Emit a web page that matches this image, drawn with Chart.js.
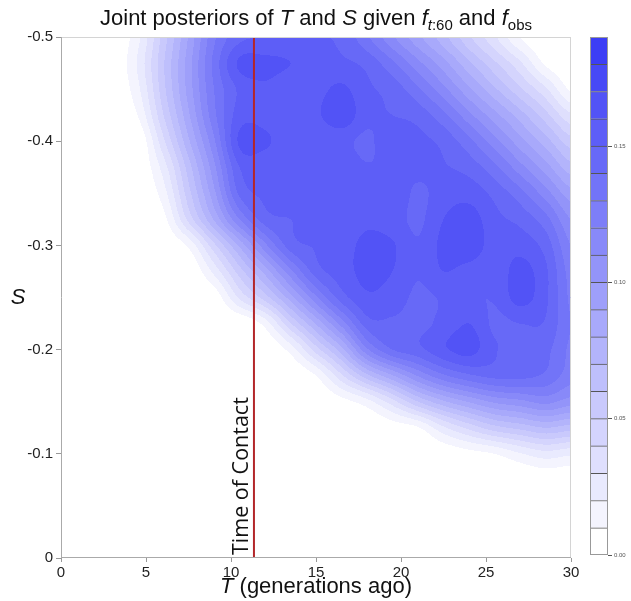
<!DOCTYPE html>
<html>
<head>
<meta charset="utf-8">
<script src="https://cdn.jsdelivr.net/npm/chart.js@4.4.1/dist/chart.umd.min.js"></script>
<style>
  html, body { margin: 0; padding: 0; background: #fff; }
  #wrap { position: relative; width: 631px; height: 601px; }
  #main { position: absolute; left: 0; top: 0; }
  #bar { position: absolute; left: 570px; top: 0; }
</style>
</head>
<body>
<div id="wrap">
  <canvas id="main" width="631" height="601"></canvas>
  <canvas id="bar" width="61" height="601"></canvas>
</div>
<script>
// grid of the density estimate (T along columns, S along rows)
const T_GRID = [0, 1.5, 3, 4.5, 6, 7.5, 9, 10.5, 12, 13.5, 15, 16.5, 18, 19.5, 21, 22.5, 24, 25.5, 27, 28.5, 30];
const S_GRID = [-0.5, -0.475, -0.45, -0.425, -0.4, -0.375, -0.35, -0.325, -0.3, -0.275, -0.25,
                -0.225, -0.2, -0.175, -0.15, -0.125, -0.1, -0.075, -0.05, -0.025, 0];

// posterior density x 1000, one row per S_GRID value
const DENSITY = [
  [0,0,0,17,54,91,128,147,150,150,150,148,132,112,93,74,52,32,10,0,0],
  [0,0,0,21,58,95,133,162,163,160,154,152,147,132,113,94,72,52,32,8,0],
  [0,0,0,17,56,94,130,152,158,152,156,162,152,146,132,113,92,72,52,32,8],
  [0,0,0,10,49,88,127,155,156,152,158,167,153,150,146,133,113,94,75,54,32],
  [0,0,0,0,37,78,118,162,162,152,151,153,148,157,153,147,133,114,94,75,54],
  [0,0,0,0,24,65,107,150,153,151,152,156,151,153,153,151,146,133,114,95,74],
  [0,0,0,0,15,56,97,142,152,152,151,153,159,158,148,155,156,147,134,115,94],
  [0,0,0,0,6,43,81,120,145,150,151,152,158,155,148,160,165,153,147,134,110],
  [0,0,0,0,0,12,47,82,117,145,151,155,163,161,151,163,167,155,156,146,120],
  [0,0,0,0,0,0,23,55,84,117,145,155,163,160,151,160,156,153,164,152,126],
  [0,0,0,0,0,0,3,32,55,85,118,145,158,155,148,151,151,151,164,152,128],
  [0,0,0,0,0,0,0,0,14,49,81,114,145,148,147,153,160,148,150,149,130],
  [0,0,0,0,0,0,0,0,0,14,45,76,118,140,147,158,164,151,147,143,128],
  [0,0,0,0,0,0,0,0,0,0,10,38,67,89,111,128,138,143,143,138,125],
  [0,0,0,0,0,0,0,0,0,0,0,6,16,36,60,78,91,102,107,113,105],
  [0,0,0,0,0,0,0,0,0,0,0,0,0,4,9,28,43,56,63,70,65],
  [0,0,0,0,0,0,0,0,0,0,0,0,0,0,0,2,6,10,19,26,22],
  [0,0,0,0,0,0,0,0,0,0,0,0,0,0,0,0,0,0,0,2,1],
  [0,0,0,0,0,0,0,0,0,0,0,0,0,0,0,0,0,0,0,0,0],
  [0,0,0,0,0,0,0,0,0,0,0,0,0,0,0,0,0,0,0,0,0],
  [0,0,0,0,0,0,0,0,0,0,0,0,0,0,0,0,0,0,0,0,0]
];

// contour levels (same bands as the colour bar)
const LEVELS = [0, 0.01, 0.02, 0.03, 0.04, 0.05, 0.06, 0.07, 0.08, 0.09, 0.10,
                0.11, 0.12, 0.13, 0.14, 0.15, 0.16, 0.17, 0.18, 0.19];
const CONTACT_T = 11.35;

const X_TICKS = [0, 5, 10, 15, 20, 25, 30];
const Y_TICKS = [-0.5, -0.4, -0.3, -0.2, -0.1, 0];
const CB_TICKS = [0, 0.05, 0.10, 0.15];

const SANS = '"Liberation Sans", Arial, sans-serif';
const NBANDS = LEVELS.length - 1;
const BAND_RGB = LEVELS.slice(0, NBANDS).map((_, i) => {
  const t = i / (NBANDS - 1);
  return [255 - 195 * t, 255 - 193 * t, 255 - 10 * t].map(Math.round);
});

function findCell(grid, v) {
  let i = 0;
  while (i < grid.length - 2 && v > grid[i + 1]) i++;
  const f = (v - grid[i]) / (grid[i + 1] - grid[i]);
  return [i, Math.min(1, Math.max(0, f))];
}

function bandOf(d) {
  let b = 0;
  while (b < NBANDS - 1 && d >= LEVELS[b + 1]) b++;
  return b;
}

// smooth (Catmull-Rom) reading of the grid between its nodes
function cr(p0, p1, p2, p3, t) {
  return 0.5 * (2 * p1 + (p2 - p0) * t + (2 * p0 - 5 * p1 + 4 * p2 - p3) * t * t + (3 * p1 - p0 - 3 * p2 + p3) * t * t * t);
}
function densityAt(i, fi, j, fj) {
  const ni = T_GRID.length - 1, nj = S_GRID.length - 1;
  const row = jj => {
    const r = DENSITY[Math.min(nj, Math.max(0, jj))];
    const g = k => r[Math.min(ni, Math.max(0, k))];
    return cr(g(i - 1), g(i), g(i + 1), g(i + 2), fi);
  };
  return Math.max(0, cr(row(j - 1), row(j), row(j + 1), row(j + 2), fj));
}

const heatmap = {
  id: 'heatmap',
  beforeDatasetsDraw(chart) {
    const { ctx, chartArea: a, scales: { x, y } } = chart;
    const w = Math.round(a.right - a.left), h = Math.round(a.bottom - a.top);
    const img = ctx.createImageData(w, h);
    const cols = [];
    for (let px = 0; px < w; px++) cols.push(findCell(T_GRID, x.getValueForPixel(a.left + px + 0.5)));
    for (let py = 0; py < h; py++) {
      const [j, fj] = findCell(S_GRID, y.getValueForPixel(a.top + py + 0.5));
      for (let px = 0; px < w; px++) {
        const [i, fi] = cols[px];
        const c = BAND_RGB[bandOf(densityAt(i, fi, j, fj) / 1000)];
        const k = (py * w + px) * 4;
        img.data[k] = c[0]; img.data[k + 1] = c[1]; img.data[k + 2] = c[2]; img.data[k + 3] = 255;
      }
    }
    ctx.putImageData(img, a.left, a.top);
  }
};

function drawRich(ctx, parts, cx, base) {
  let total = 0;
  parts.forEach(p => { ctx.font = p.font; p.w = ctx.measureText(p.text).width; total += p.w; });
  let xx = cx - total / 2;
  ctx.textAlign = 'left';
  ctx.textBaseline = 'alphabetic';
  parts.forEach(p => { ctx.font = p.font; ctx.fillText(p.text, xx, base + (p.dy || 0)); xx += p.w; });
}

const decorations = {
  id: 'decorations',
  afterDatasetsDraw(chart) {
    const { ctx, scales: { x, y } } = chart;
    ctx.save();
    ctx.translate(x.getPixelForValue(CONTACT_T) - 6, y.getPixelForValue(0) - 3);
    ctx.rotate(-Math.PI / 2);
    ctx.fillStyle = '#111';
    ctx.font = '21.5px "Open Sans", sans-serif';
    ctx.textAlign = 'left';
    ctx.textBaseline = 'alphabetic';
    ctx.fillText('Time of Contact', 0, 0);
    ctx.restore();
  },
  afterDraw(chart) {
    const { ctx, chartArea: a } = chart;
    ctx.save();
    ctx.lineWidth = 1;
    ctx.strokeStyle = '#d4d4d4';
    ctx.beginPath();
    ctx.moveTo(a.left, a.top + 0.5); ctx.lineTo(a.right, a.top + 0.5);
    ctx.moveTo(a.right - 0.5, a.top); ctx.lineTo(a.right - 0.5, a.bottom);
    ctx.stroke();
    ctx.strokeStyle = '#aaa';
    ctx.beginPath();
    ctx.moveTo(a.left + 0.5, a.top); ctx.lineTo(a.left + 0.5, a.bottom);
    ctx.moveTo(a.left, a.bottom - 0.5); ctx.lineTo(a.right, a.bottom - 0.5);
    ctx.stroke();

    ctx.fillStyle = '#111';
    const n = '22px ' + SANS, it = 'italic 22px ' + SANS;
    const sub = '15px ' + SANS, subIt = 'italic 15px ' + SANS;
    drawRich(ctx, [
      { text: 'Joint posteriors of ', font: n },
      { text: 'T', font: it },
      { text: ' and ', font: n },
      { text: 'S', font: it },
      { text: ' given ', font: n },
      { text: 'f', font: it },
      { text: 't', font: subIt, dy: 5 },
      { text: ':60', font: sub, dy: 5 },
      { text: ' and ', font: n },
      { text: 'f', font: it },
      { text: 'obs', font: sub, dy: 5 }
    ], (a.left + a.right) / 2, 25);

    drawRich(ctx, [
      { text: 'T', font: 'italic 22px ' + SANS },
      { text: ' (generations ago)', font: '22px ' + SANS }
    ], (a.left + a.right) / 2, 593);

    ctx.save();
    ctx.font = 'italic 22px ' + SANS;
    ctx.textAlign = 'center';
    ctx.textBaseline = 'middle';
    ctx.fillText('S', 18, (a.top + a.bottom) / 2);
    ctx.restore();
    ctx.restore();
  }
};

new Chart(document.getElementById('main'), {
  type: 'scatter',
  data: {
    datasets: [{
      data: [{ x: CONTACT_T, y: 0 }, { x: CONTACT_T, y: -0.5 }],
      showLine: true,
      borderColor: '#b3262a',
      borderWidth: 2,
      pointRadius: 0
    }]
  },
  options: {
    responsive: false,
    animation: false,
    layout: { padding: { left: 0, top: 37, right: 60, bottom: 0 } },
    plugins: { legend: { display: false }, tooltip: { enabled: false } },
    scales: {
      x: {
        type: 'linear', min: 0, max: 30,
        afterFit: s => { s.height = 43; },
        afterBuildTicks: s => { s.ticks = X_TICKS.map(v => ({ value: v })); },
        ticks: { font: { size: 15, family: SANS }, color: '#222', padding: 2, maxRotation: 0 },
        grid: { drawOnChartArea: false, tickLength: 4, color: '#999' },
        border: { display: false }
      },
      y: {
        type: 'linear', min: -0.5, max: 0, reverse: true,
        afterFit: s => { s.width = 61; },
        afterBuildTicks: s => { s.ticks = Y_TICKS.map(v => ({ value: v })); },
        ticks: {
          font: { size: 15, family: SANS }, color: '#222', padding: 3,
          callback: v => v === 0 ? '0' : v.toFixed(1)
        },
        grid: { drawOnChartArea: false, tickLength: 5, color: '#999' },
        border: { display: false }
      }
    }
  },
  plugins: [heatmap, decorations]
});

const barFrame = {
  id: 'barFrame',
  afterDraw(chart) {
    const { ctx, chartArea: a } = chart;
    ctx.save();
    ctx.strokeStyle = '#999';
    ctx.lineWidth = 1;
    ctx.strokeRect(a.left + 0.5, a.top + 0.5, a.right - a.left - 1, a.bottom - a.top - 1);
    ctx.restore();
  }
};

new Chart(document.getElementById('bar'), {
  type: 'bar',
  data: {
    labels: [''],
    datasets: BAND_RGB.map((c, i) => ({
      data: [LEVELS[i + 1] - LEVELS[i]],
      backgroundColor: `rgb(${c[0]},${c[1]},${c[2]})`,
      borderColor: '#555',
      borderWidth: { top: i < NBANDS - 1 ? 1 : 0, left: 0, right: 0, bottom: 0 },
      borderSkipped: false,
      barPercentage: 1,
      categoryPercentage: 1
    }))
  },
  options: {
    responsive: false,
    animation: false,
    layout: { padding: { left: 20, top: 37, right: 0, bottom: 46 } },
    plugins: { legend: { display: false }, tooltip: { enabled: false } },
    scales: {
      x: { stacked: true, display: false },
      y: {
        stacked: true, position: 'right', min: 0, max: LEVELS[LEVELS.length - 1],
        afterFit: s => { s.width = 23; },
        afterBuildTicks: s => { s.ticks = CB_TICKS.map(v => ({ value: v })); },
        ticks: { font: { size: 6, family: SANS }, color: '#555', padding: 2, callback: v => v.toFixed(2) },
        grid: { drawOnChartArea: false, tickLength: 4, color: '#555' },
        border: { display: false }
      }
    }
  },
  plugins: [barFrame]
});
</script>
</body>
</html>
